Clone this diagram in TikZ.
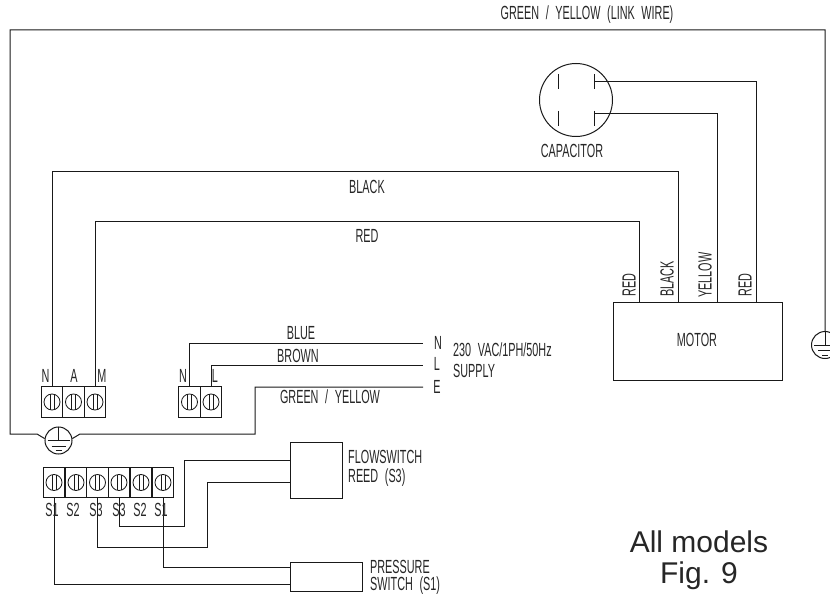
\documentclass[tikz,border=0pt]{standalone}
\usepackage{fontspec}
\setmainfont{Liberation Sans}
\newfontfamily\cadfont[FakeStretch=0.57, WordSpace=2.2]{Liberation Sans}
\usepackage{tikz}
\tikzstyle{wire}=[draw, line width=1pt, black!90]
\tikzstyle{block}=[draw, rectangle, line width=1pt, black!90, inner sep=0pt]
\tikzstyle{cell}=[block, minimum width=21.7pt, minimum height=30.5pt]
\tikzstyle{ring}=[draw, circle, line width=1pt, black!90, inner sep=0pt]
\tikzstyle{cad}=[inner sep=0pt, text=black!85, font=\cadfont\fontsize{19}{21}\selectfont]
\tikzset{
	screw/.pic={
		\draw[line width=0.8pt, black!90] (0,0) circle (8pt);
		\draw[line width=0.8pt, black!90] (-2,-7.7)--(-2,7.7) (2,-7.7)--(2,7.7);
	},
	earthmark/.pic={
		\draw[line width=0.8pt, black!90] (0,-13.5)--(0,0) (-11,0)--(11,0) (-7,5.5)--(7,5.5) (-3,10)--(3,10);
	}
}

\begin{document}
\begin{tikzpicture}[x=1pt, y=-1pt]
	\useasboundingbox (0,0) rectangle (830,596);
	\foreach \name/\x in {tN/52, tA/73.5, tM/95, pN/189.5, pL/211}{
		\node[cell] (\name) at (\x,402) {};
		\pic at (\name) {screw};
	}
	\foreach \name/\x in {sA/54, sB/76, sC/97.5, sD/119, sE/141, sF/163}{
		\node[cell] (\name) at (\x,482.5) {};
		\pic at (\name) {screw};
	}
	\node[block, minimum width=169pt, minimum height=78pt] (motor) at (697.5,341) {};
	\node[block, minimum width=52pt, minimum height=56pt] (flow) at (316,470) {};
	\node[block, minimum width=72pt, minimum height=29pt] (press) at (326,576.5) {};
	\node[ring, minimum size=73pt] (cap) at (576,100) {};
	\node[ring, minimum size=27pt] (earth) at (58.5,440.5) {};
	\pic at (earth) {earthmark};
	\node[ring, minimum size=27pt] (rearth) at (825,345) {};
	\pic at (rearth) {earthmark};

	\coordinate (mRed) at (639,302);
	\coordinate (mBlack) at (678,302);
	\coordinate (mYellow) at (717,302);
	\coordinate (mLast) at (756,302);
	\coordinate (capA) at (594,82);
	\coordinate (capB) at (594,114);
	\coordinate (supN) at (423,343);
	\coordinate (supL) at (423,365);
	\coordinate (supE) at (423,387);
	\coordinate (flowA) at (290,460);
	\coordinate (flowB) at (290,482);
	\coordinate (pressA) at (290,567);
	\coordinate (pressB) at (290,584);

	\draw[wire] (tN.north)--(52,172)-|(mBlack);
	\draw[wire] (tM.north)--(95,222)-|(mRed);
	\draw[wire] (capA)-|(mLast);
	\draw[wire] (capB)-|(mYellow);
	\draw[wire] (pN.north)|-(supN);
	\draw[wire] (pL.north)|-(supL);
	\draw[wire] (earth.172)--(37,434)--(10,434)--(10,30)--(825,30)--(rearth.north);
	\draw[wire] (earth.8)--(80,434)--(255,434)|-(supE);
	\draw[wire] (sD.south)--(119,526)--(184,526)|-(flowA);
	\draw[wire] (sC.south)--(97.5,547)--(207,547)|-(flowB);
	\draw[wire] (sF.south)|-(pressA);
	\draw[wire] (sA.south)|-(pressB);

	\draw[wire] (558,74)--(558,89) (558,111)--(558,126);
	\draw[wire] (594,74)--(594,89) (594,111)--(594,126);

	\node[cad] (linkLabel) at (587,15) {GREEN / YELLOW (LINK WIRE)};
	\node[cad] (capLabel) at (572,151) {CAPACITOR};
	\node[cad] (blackLabel) at (367,187) {BLACK};
	\node[cad] (redLabel) at (367,236) {RED};
	\node[cad] (blueLabel) at (301,333) {BLUE};
	\node[cad] (brownLabel) at (298,356) {BROWN};
	\node[cad] (geLabel) at (330,397) {GREEN / YELLOW};
	\node[cad] (nLabel) at (438,343) {N};
	\node[cad] (lLabel) at (437,364) {L};
	\node[cad] (eLabel) at (437,387) {E};
	\node[cad, anchor=west] (mainsLabel) at (453,350) {230 VAC/1PH/50Hz};
	\node[cad, anchor=west] (supplyLabel) at (453,371) {SUPPLY};
	\node[cad] (motorLabel) at (697,340) {MOTOR};
	\node[cad, rotate=90] (wireA) at (629,285) {RED};
	\node[cad, rotate=90] (wireB) at (667,279) {BLACK};
	\node[cad, rotate=90] (wireC) at (705,275) {YELLOW};
	\node[cad, rotate=90] (wireD) at (745,285) {RED};
	\foreach \name/\txt/\x in {aN/N/45.5, aA/A/74, aM/M/102, bN/N/183, bL/L/215}{
		\node[cad] (\name) at (\x,376) {\txt};
	}
	\foreach \name/\txt/\x in {cA/S1/52, cB/S2/73, cC/S3/96, cD/S3/119, cE/S2/140, cF/S1/161}{
		\node[cad] (\name) at (\x,510) {\txt};
	}
	\node[cad, anchor=west] (flowLabel) at (348,457) {FLOWSWITCH};
	\node[cad, anchor=west] (reedLabel) at (348,478) {REED (S3)};
	\node[cad, anchor=west] (pressLabel) at (370,567) {PRESSURE};
	\node[cad, anchor=west] (switchLabel) at (370,586) {SWITCH (S1)};
	\node[inner sep=0pt, text=black!85, font=\fontsize{30}{36}\selectfont] (modelsLabel) at (699,542) {All models};
	\node[inner sep=0pt, text=black!85, font=\fontsize{30}{36}\selectfont] (figLabel) at (699,576) {Fig. 9};
\end{tikzpicture}
\end{document}
